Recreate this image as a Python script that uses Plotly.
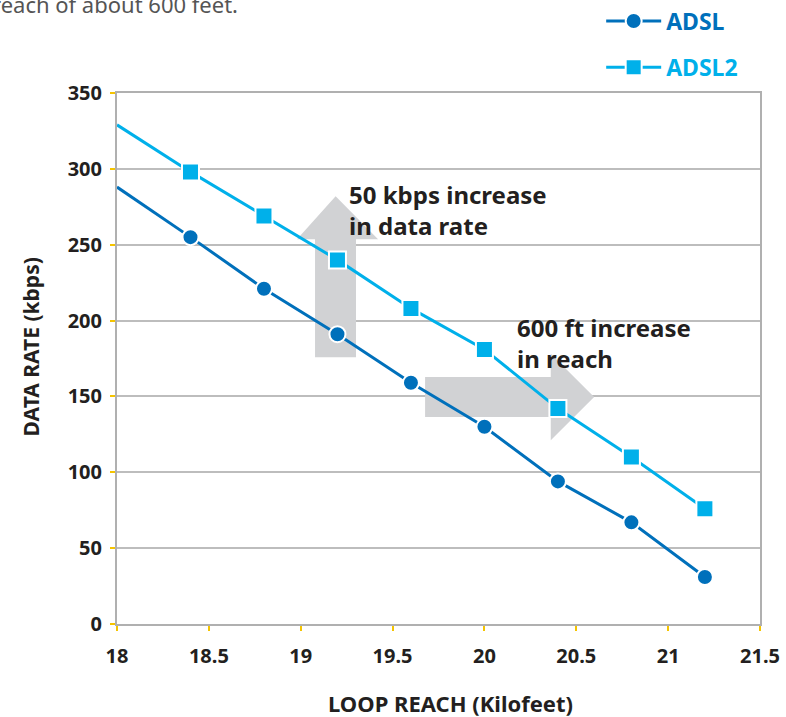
import plotly.graph_objects as go

# ---- data ----
loop_reach = [18.4, 18.8, 19.2, 19.6, 20.0, 20.4, 20.8, 21.2]
adsl_rate = [255, 221, 191, 159, 130, 94, 67, 31]
adsl2_rate = [298, 269, 240, 208, 181, 142, 110, 76]
trend_start_x = 18.0
adsl_trend_start = 288
adsl2_trend_start = 329

x_ticks = [18, 18.5, 19, 19.5, 20, 20.5, 21, 21.5]
x_tick_labels = ["18", "18.5", "19", "19.5", "20", "20.5", "21", "21.5"]
y_ticks = [0, 50, 100, 150, 200, 250, 300, 350]

ADSL_C = "#0070BB"
ADSL2_C = "#00B0EA"
TXT = "#231F20"
GRID = "#BDBDBD"
TICK = "#F5C400"
ARROW = "#D1D2D4"
FONT = "Noto Sans"

fig = go.Figure()

# trend extensions toward x=18
fig.add_trace(go.Scatter(x=[trend_start_x, loop_reach[0]], y=[adsl_trend_start, adsl_rate[0]],
                         mode="lines", line=dict(color=ADSL_C, width=3), showlegend=False,
                         hoverinfo="skip"))
fig.add_trace(go.Scatter(x=[trend_start_x, loop_reach[0]], y=[adsl2_trend_start, adsl2_rate[0]],
                         mode="lines", line=dict(color=ADSL2_C, width=3), showlegend=False,
                         hoverinfo="skip"))

fig.add_trace(go.Scatter(x=loop_reach, y=adsl_rate, name="<b>ADSL</b>", mode="lines+markers",
                         line=dict(color=ADSL_C, width=3),
                         marker=dict(symbol="circle", size=16, color=ADSL_C,
                                     line=dict(color="white", width=2)),
                         legend="legend"))
fig.add_trace(go.Scatter(x=loop_reach, y=adsl2_rate, name="<b>ADSL2</b>", mode="lines+markers",
                         line=dict(color=ADSL2_C, width=3),
                         marker=dict(symbol="square", size=17, color=ADSL2_C,
                                     line=dict(color="white", width=2)),
                         legend="legend2"))

# block arrows (annotation graphics)
up_arrow = "M19.078,175.8 L19.301,175.8 L19.301,253.6 L19.421,253.6 L19.19,281.9 L18.98,253.6 L19.078,253.6 Z"
right_arrow = "M19.677,136.5 L20.361,136.5 L20.361,121.1 L20.597,149.6 L20.361,178.2 L20.361,162.8 L19.677,162.8 Z"
for p in (up_arrow, right_arrow):
    fig.add_shape(type="path", path=p, xref="x", yref="y", fillcolor=ARROW,
                  line=dict(width=0), layer="between")

fig.add_annotation(x=19.252, y=295.5, xref="x", yref="y", xanchor="left", yanchor="top",
                   text="<b>50 kbps increase<br>in data rate</b>", showarrow=False, align="left",
                   font=dict(family=FONT, size=24, color=TXT))
fig.add_annotation(x=20.167, y=207.5, xref="x", yref="y", xanchor="left", yanchor="top",
                   text="<b>600 ft increase<br>in reach</b>", showarrow=False, align="left",
                   font=dict(family=FONT, size=24, color=TXT))

# axis titles
fig.add_annotation(x=-0.1337, y=0.521, xref="paper", yref="paper", textangle=-90,
                   xanchor="center", yanchor="middle",
                   text="<b>DATA RATE (kbps)</b>", showarrow=False,
                   font=dict(family=FONT, size=21, color=TXT))
fig.add_annotation(x=0.519, y=-0.149, xref="paper", yref="paper",
                   xanchor="center", yanchor="middle",
                   text="<b>LOOP REACH (Kilofeet)</b>", showarrow=False,
                   font=dict(family=FONT, size=22, color=TXT))

# cut-off surrounding text at the top (as in the source page)
fig.add_annotation(x=0.192, y=1.136, xref="paper", yref="paper", xanchor="right", yanchor="bottom",
                   text="reach of about 600 feet.", showarrow=False,
                   font=dict(family=FONT, size=22, color="#555555"))

fig.update_layout(
    width=786, height=717,
    margin=dict(l=117, r=26, t=93, b=93, autoexpand=False),
    paper_bgcolor="white", plot_bgcolor="white",
    font=dict(family=FONT, color=TXT),
    hovermode=False,
    legend=dict(x=0.753, y=1.176, xanchor="left", yanchor="top", bgcolor="rgba(0,0,0,0)",
                font=dict(family=FONT, size=23, color=ADSL_C), itemwidth=55),
    legend2=dict(x=0.753, y=1.089, xanchor="left", yanchor="top", bgcolor="rgba(0,0,0,0)",
                 font=dict(family=FONT, size=23, color=ADSL2_C), itemwidth=55),
)
fig.update_xaxes(range=[18, 21.5], tickvals=x_ticks, ticktext=x_tick_labels,
                 showgrid=False, zeroline=False, showline=True, linecolor="#B0B0B0", linewidth=2,
                 mirror=True, ticks="outside", ticklen=5, tickwidth=2, tickcolor=TICK,
                 tickfont=dict(family=FONT, size=20, color=TXT, weight="bold"), ticklabelstandoff=8)
fig.update_yaxes(range=[0, 350], tickvals=y_ticks,
                 showgrid=True, gridcolor=GRID, gridwidth=2, zeroline=False,
                 showline=True, linecolor="#B0B0B0", linewidth=2, mirror=True,
                 ticks="outside", ticklen=5, tickwidth=2, tickcolor=TICK,
                 tickfont=dict(family=FONT, size=20, color=TXT, weight="bold"), ticklabelstandoff=4)

fig.write_html("out.html", config={"displayModeBar": False},
               post_script="document.body.style.margin='0px';")
